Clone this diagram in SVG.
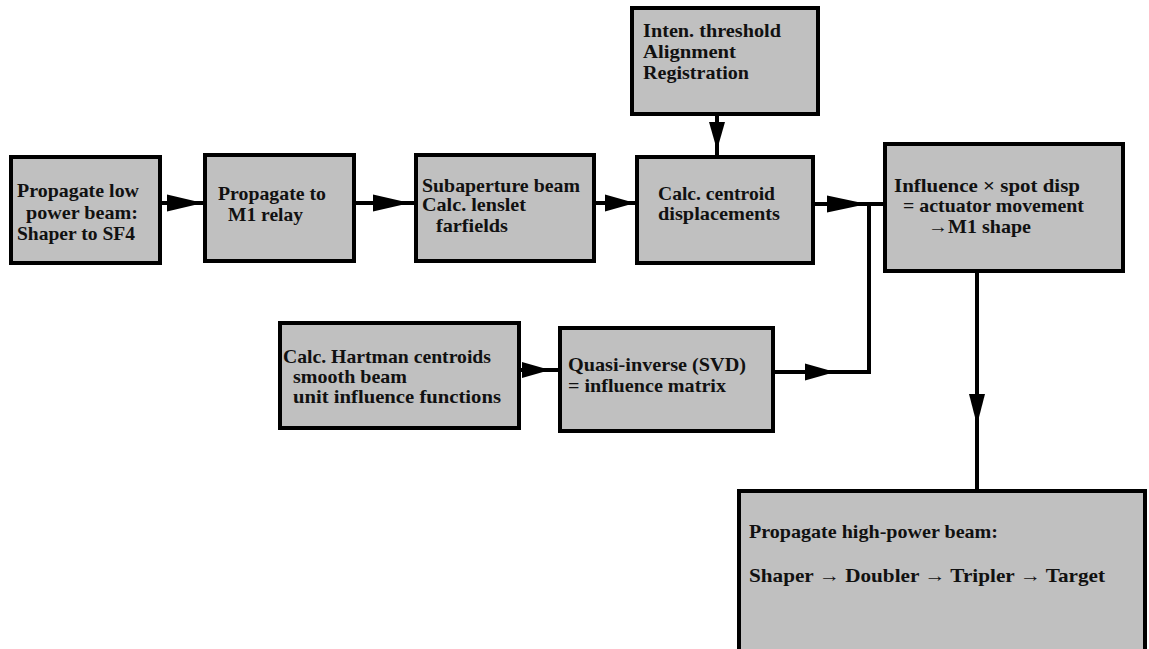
<svg xmlns="http://www.w3.org/2000/svg" width="1149" height="649" viewBox="0 0 1149 649">
<style>
.box{fill:#c0c0c0;stroke:#000;stroke-width:4}
.t{font-family:"Liberation Serif","Times New Roman",serif;font-weight:bold;font-size:19px;fill:#111}
.ln{fill:none;stroke:#000;stroke-width:4}
.hd{fill:#000;stroke:none}
</style>
<rect width="1149" height="649" fill="#fff"/>
<g id="connectors">
<line class="ln" x1="162" y1="203" x2="205" y2="203"/>
<polygon class="hd" points="203,203 167,194.5 167,211.5"/>
<line class="ln" x1="356" y1="203" x2="416" y2="203"/>
<polygon class="hd" points="410,203 373,194.5 373,211.5"/>
<line class="ln" x1="596" y1="203" x2="637" y2="203"/>
<polygon class="hd" points="635,203 605,194.5 605,211.5"/>
<polyline class="ln" points="815,204 885,204"/>
<polygon class="hd" points="867,204 827,195.5 827,212.5"/>
<line class="ln" x1="717" y1="116" x2="717" y2="157"/>
<polygon class="hd" points="717,150 709,122 725,122"/>
<line class="ln" x1="521" y1="370" x2="560" y2="370"/>
<polygon class="hd" points="550,370 522,362 522,378"/>
<polyline class="ln" points="775,372 869,372 869,202"/>
<polygon class="hd" points="835,372 805,363.5 805,380.5"/>
<line class="ln" x1="977" y1="273" x2="977" y2="491"/>
<polygon class="hd" points="977,425 969,394 985,394"/>
</g>
<g id="n1">
<rect class="box" x="11" y="157" width="149" height="106"/>
<text class="t" x="17" y="197" textLength="122" lengthAdjust="spacingAndGlyphs">Propagate low</text>
<text class="t" x="26" y="219" textLength="112" lengthAdjust="spacingAndGlyphs">power beam:</text>
<text class="t" x="17" y="240" textLength="118" lengthAdjust="spacingAndGlyphs">Shaper to SF4</text>
</g>
<g id="n2">
<rect class="box" x="205" y="155" width="149" height="106"/>
<text class="t" x="218" y="200" textLength="108" lengthAdjust="spacingAndGlyphs">Propagate to</text>
<text class="t" x="228" y="221" textLength="75" lengthAdjust="spacingAndGlyphs">M1 relay</text>
</g>
<g id="n3">
<rect class="box" x="416" y="155" width="178" height="106"/>
<text class="t" x="422" y="192" textLength="158" lengthAdjust="spacingAndGlyphs">Subaperture beam</text>
<text class="t" x="422" y="211" textLength="104" lengthAdjust="spacingAndGlyphs">Calc. lenslet</text>
<text class="t" x="436" y="232" textLength="72" lengthAdjust="spacingAndGlyphs">farfields</text>
</g>
<g id="n_top">
<rect class="box" x="632" y="8" width="186" height="106"/>
<text class="t" x="643" y="37" textLength="138" lengthAdjust="spacingAndGlyphs">Inten. threshold</text>
<text class="t" x="643" y="58" textLength="93" lengthAdjust="spacingAndGlyphs">Alignment</text>
<text class="t" x="643" y="79" textLength="106" lengthAdjust="spacingAndGlyphs">Registration</text>
</g>
<g id="n4">
<rect class="box" x="637" y="157" width="176" height="106"/>
<text class="t" x="658" y="200" textLength="117" lengthAdjust="spacingAndGlyphs">Calc. centroid</text>
<text class="t" x="658" y="220" textLength="122" lengthAdjust="spacingAndGlyphs">displacements</text>
</g>
<g id="n5">
<rect class="box" x="885" y="144" width="238" height="127"/>
<text class="t" x="894" y="192" textLength="186" lengthAdjust="spacingAndGlyphs">Influence  × spot disp</text>
<text class="t" x="903" y="212" textLength="181" lengthAdjust="spacingAndGlyphs">= actuator movement</text>
<text class="t" x="928" y="233" textLength="103" lengthAdjust="spacingAndGlyphs">→M1 shape</text>
</g>
<g id="n6">
<rect class="box" x="280" y="323" width="239" height="105"/>
<text class="t" x="283" y="363" textLength="208" lengthAdjust="spacingAndGlyphs">Calc. Hartman centroids</text>
<text class="t" x="293" y="383" textLength="114" lengthAdjust="spacingAndGlyphs">smooth beam</text>
<text class="t" x="293" y="403" textLength="208" lengthAdjust="spacingAndGlyphs">unit influence functions</text>
</g>
<g id="n7">
<rect class="box" x="560" y="328" width="213" height="103"/>
<text class="t" x="568" y="371" textLength="178" lengthAdjust="spacingAndGlyphs">Quasi-inverse (SVD)</text>
<text class="t" x="568" y="392" textLength="158" lengthAdjust="spacingAndGlyphs">= influence matrix</text>
</g>
<g id="n8">
<rect class="box" x="739" y="491" width="406" height="170"/>
<text class="t" x="749" y="538" textLength="249" lengthAdjust="spacingAndGlyphs">Propagate high-power beam:</text>
<text class="t" x="749" y="582" textLength="356" lengthAdjust="spacingAndGlyphs">Shaper → Doubler → Tripler  → Target</text>
</g>
</svg>
